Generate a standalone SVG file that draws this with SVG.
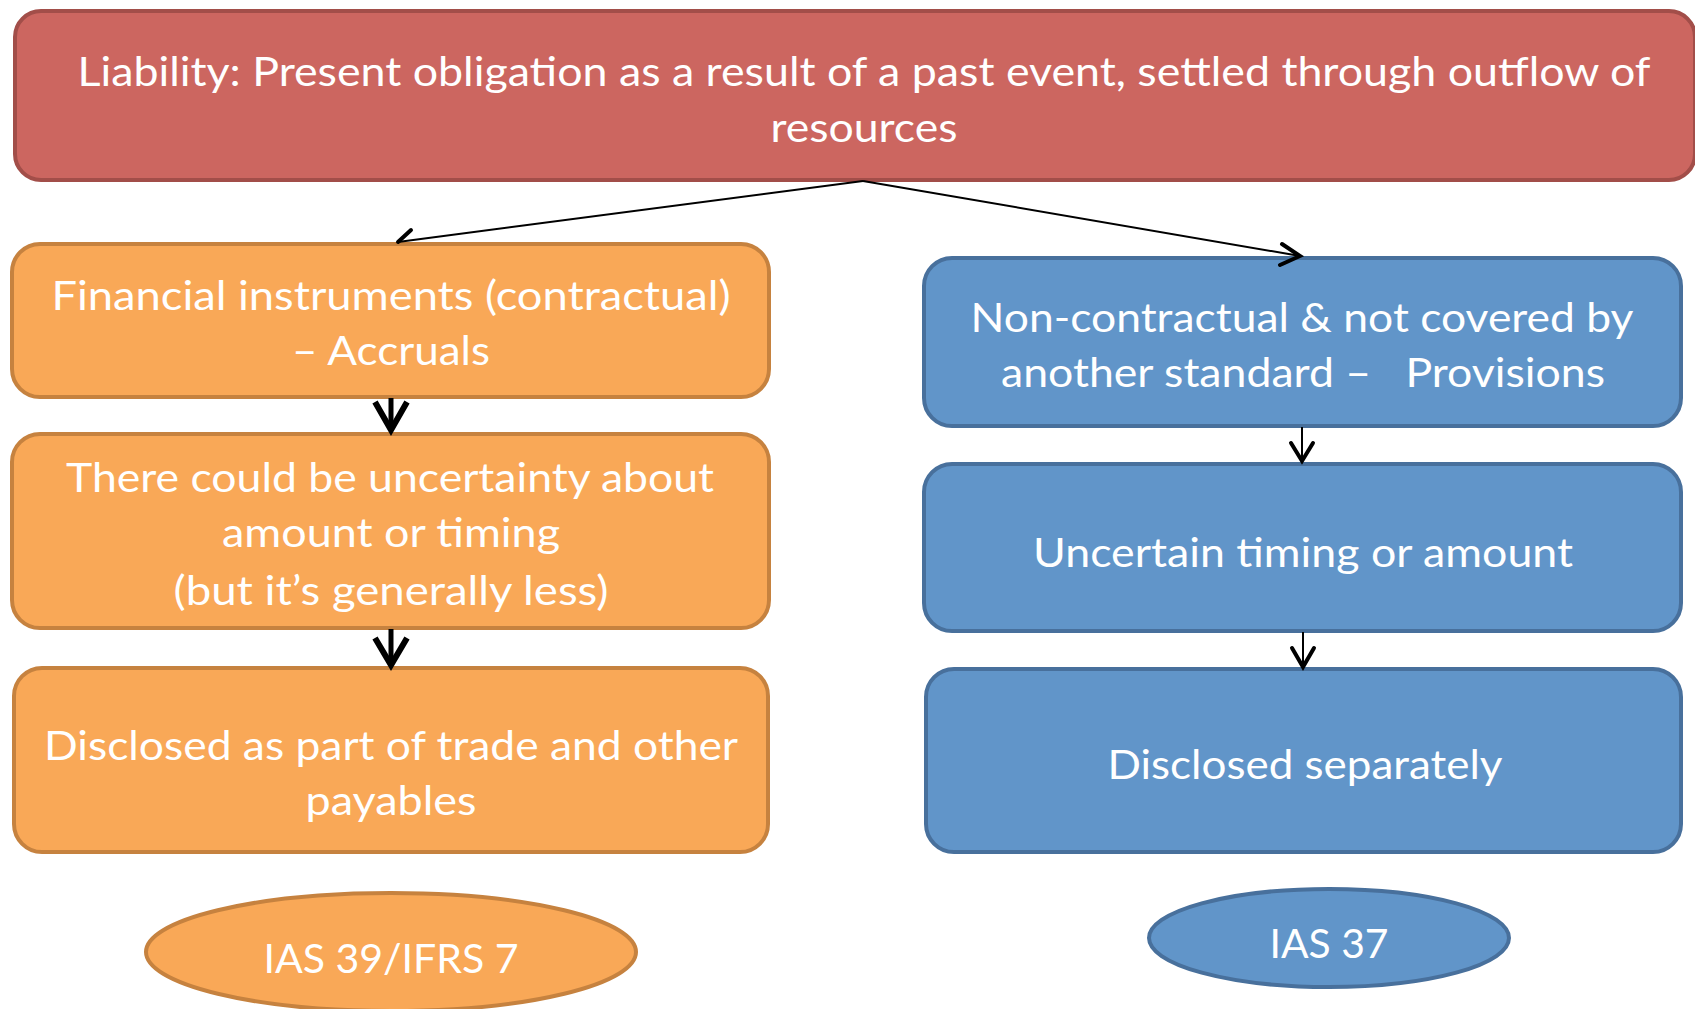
<svg xmlns="http://www.w3.org/2000/svg" width="1695" height="1009" viewBox="0 0 1695 1009">
<style>
text{font-family:Lato,"Open Sans","Liberation Sans",sans-serif;fill:#fff;text-anchor:middle;font-size:40px}
.red{fill:#CC6660;stroke:#A24E49;stroke-width:4}
.org{fill:#F9A857;stroke:#C6823F;stroke-width:4}
.blu{fill:#6195C9;stroke:#48709C;stroke-width:4}
.thin{stroke:#000;stroke-width:2;fill:none}
.thick{stroke:#000;stroke-width:5;fill:none}
.head{stroke:#000;stroke-width:4;fill:none;stroke-linecap:round;stroke-linejoin:miter}
.bhead{stroke:#000;stroke-width:6;fill:none;stroke-linejoin:miter}
</style>
<rect width="1695" height="1009" fill="#fff"/>
<g id="liability">
<rect class="red" x="15" y="11" width="1680" height="169" rx="26"/>
<text x="864" y="86" font-size="42" textLength="1573" lengthAdjust="spacingAndGlyphs">Liability: Present obligation as a result of a past event, settled through outflow of</text>
<text x="864" y="142" font-size="42" textLength="187" lengthAdjust="spacingAndGlyphs">resources</text>
</g>
<g id="fin-instruments">
<rect class="org" x="12" y="244" width="757" height="153" rx="28"/>
<text x="391" y="310" textLength="679" lengthAdjust="spacingAndGlyphs">Financial instruments (contractual)</text>
<text x="391" y="365" textLength="198" lengthAdjust="spacingAndGlyphs">– Accruals</text>
</g>
<g id="uncertainty">
<rect class="org" x="12" y="434" width="757" height="194" rx="28"/>
<text x="390" y="492" textLength="648" lengthAdjust="spacingAndGlyphs">There could be uncertainty about</text>
<text x="391" y="547" textLength="338" lengthAdjust="spacingAndGlyphs">amount or timing</text>
<text x="391" y="605" textLength="435" lengthAdjust="spacingAndGlyphs">(but it’s generally less)</text>
</g>
<g id="disclosed-payables">
<rect class="org" x="14" y="668" width="754" height="184" rx="28"/>
<text x="391" y="760" textLength="694" lengthAdjust="spacingAndGlyphs">Disclosed as part of trade and other</text>
<text x="391" y="815" textLength="171" lengthAdjust="spacingAndGlyphs">payables</text>
</g>
<g id="ias39">
<ellipse class="org" cx="391" cy="952" rx="245" ry="59"/>
<text x="391" y="973" textLength="255" lengthAdjust="spacingAndGlyphs">IAS 39/IFRS 7</text>
</g>
<g id="non-contractual">
<rect class="blu" x="924" y="258" width="757" height="168" rx="28"/>
<text x="1302" y="332" textLength="663" lengthAdjust="spacingAndGlyphs">Non-contractual &amp; not covered by</text>
<text x="1303" y="387" textLength="604" lengthAdjust="spacingAndGlyphs" xml:space="preserve">another standard –   Provisions</text>
</g>
<g id="uncertain-timing">
<rect class="blu" x="924" y="464" width="757" height="167" rx="28"/>
<text x="1303" y="567" textLength="540" lengthAdjust="spacingAndGlyphs">Uncertain timing or amount</text>
</g>
<g id="disclosed-separately">
<rect class="blu" x="926" y="669" width="755" height="183" rx="28"/>
<text x="1305" y="779" textLength="395" lengthAdjust="spacingAndGlyphs">Disclosed separately</text>
</g>
<g id="ias37">
<ellipse class="blu" cx="1329" cy="938" rx="180" ry="49"/>
<text x="1329" y="958" textLength="119" lengthAdjust="spacingAndGlyphs">IAS 37</text>
</g>
<g id="connectors">
<line class="thin" x1="863" y1="181" x2="398" y2="242"/>
<polyline class="head" points="411,230 398,242"/>
<line class="thin" x1="863" y1="181" x2="1300" y2="256"/>
<polyline class="head" points="1282,244 1300,256 1280,265"/>
<line class="thick" x1="391" y1="398" x2="391" y2="428"/>
<polyline class="bhead" points="375,402 391,430 407,402"/>
<line class="thick" x1="391" y1="629" x2="391" y2="664"/>
<polyline class="bhead" points="375,638 391,665 407,638"/>
<line class="thin" x1="1302" y1="427" x2="1302" y2="461"/>
<polyline class="head" points="1291,443 1302,461 1313,443"/>
<line class="thin" x1="1303" y1="632" x2="1303" y2="667"/>
<polyline class="head" points="1292,648 1303,667 1314,648"/>
</g>
</svg>
